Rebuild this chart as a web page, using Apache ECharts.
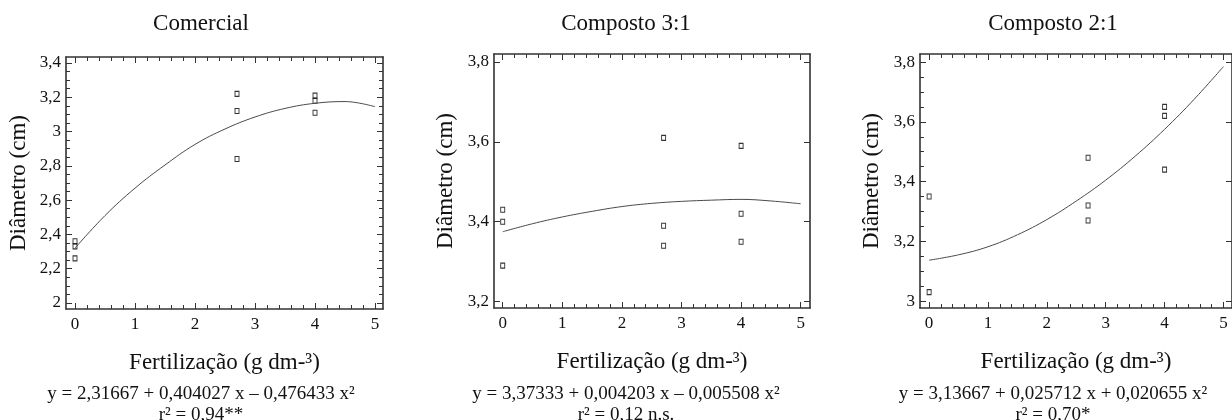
<!DOCTYPE html>
<html><head><meta charset="utf-8">
<script src="https://cdn.jsdelivr.net/npm/echarts@6/dist/echarts.min.js"></script>
<style>html,body{margin:0;padding:0;background:#fff}#c{width:1232px;height:420px}</style>
</head><body><div id="c"></div>
<script>
// ---- data ----
const panelTitles = ['Comercial', 'Composto 3:1', 'Composto 2:1'];
const equations = [
  'y = 2,31667 + 0,404027 x – 0,476433 x²',
  'y = 3,37333 + 0,004203 x – 0,005508 x²',
  'y = 3,13667 + 0,025712 x + 0,020655 x²'
];
const r2Labels = ['r² = 0,94**', 'r² = 0,12 n.s.', 'r² = 0,70*'];
const xAxisName = 'Fertilização (g dm-³)';
const yAxisName = 'Diâmetro (cm)';

const xTickValues = [0, 1, 2, 3, 4, 5];
const xTickLabels = ['0', '1', '2', '3', '4', '5'];
const yTickValues1 = [2, 2.2, 2.4, 2.6, 2.8, 3, 3.2, 3.4];
const yTickLabels1 = ['2', '2,2', '2,4', '2,6', '2,8', '3', '3,2', '3,4'];
const yTickValues2 = [3.2, 3.4, 3.6, 3.8];
const yTickLabels2 = ['3,2', '3,4', '3,6', '3,8'];
const yTickValues3 = [3, 3.2, 3.4, 3.6, 3.8];
const yTickLabels3 = ['3', '3,2', '3,4', '3,6', '3,8'];

const obsX1 = [0, 0, 0, 2.7, 2.7, 2.7, 4, 4, 4];
const obsY1 = [2.36, 2.33, 2.26, 3.22, 3.12, 2.84, 3.21, 3.18, 3.11];
const obsX2 = [0, 0, 0, 2.7, 2.7, 2.7, 4, 4, 4];
const obsY2 = [3.43, 3.40, 3.29, 3.61, 3.39, 3.34, 3.59, 3.42, 3.35];
const obsX3 = [0, 0, 2.7, 2.7, 2.7, 4, 4, 4];
const obsY3 = [3.35, 3.03, 3.48, 3.32, 3.27, 3.65, 3.62, 3.44];

const fitX1 = [0, 0.5, 1, 1.5, 2, 2.5, 3, 3.5, 4, 4.5, 5];
const fitY1 = [2.32, 2.51, 2.67, 2.805, 2.925, 3.015, 3.085, 3.135, 3.165, 3.175, 3.145];
const fitX2 = [0, 0.5, 1, 1.5, 2, 2.5, 3, 3.5, 4, 4.5, 5];
const fitY2 = [3.375, 3.395, 3.412, 3.426, 3.438, 3.446, 3.451, 3.454, 3.456, 3.452, 3.445];
const fitX3 = [0, 0.5, 1, 1.5, 2, 2.5, 3, 3.5, 4, 4.5, 5];
const fitY3 = [3.137, 3.155, 3.182, 3.222, 3.273, 3.335, 3.405, 3.485, 3.575, 3.675, 3.785];

// ---- layout / styling ----
const FONT = "'Liberation Serif', 'Times New Roman', serif";
const INK = '#111';
const FRAME = '#333';

const panels = [
  { grid: {left: 66, top: 57, width: 317, height: 252}, x: [-0.15, 5.133], y: [1.965, 3.435],
    yv: yTickValues1, yl: yTickLabels1, yMinorL: 4, yMinorR: 4, titleX: 201, yNameGap: 36,
    ox: obsX1, oy: obsY1, fx: fitX1, fy: fitY1 },
  { grid: {left: 494, top: 54, width: 316, height: 254}, x: [-0.146, 5.156], y: [3.184, 3.82],
    yv: yTickValues2, yl: yTickLabels2, yMinorL: 0, yMinorR: 0, titleX: 626, yNameGap: 37,
    ox: obsX2, oy: obsY2, fx: fitX2, fy: fitY2 },
  { grid: {left: 920, top: 54, width: 318, height: 254}, x: [-0.155, 5.145], y: [2.977, 3.827],
    yv: yTickValues3, yl: yTickLabels3, yMinorL: 4, yMinorR: 0, titleX: 1053, yNameGap: 37,
    ox: obsX3, oy: obsY3, fx: fitX3, fy: fitY3 }
];

function subdivide(vals, n) {
  const out = [];
  if (n < 2) return out;
  for (let i = 0; i < vals.length - 1; i++) {
    const a = vals[i], b = vals[i + 1];
    for (let k = 1; k < n; k++) out.push(+(a + (b - a) * k / n).toFixed(6));
  }
  return out;
}

const grids = [], xAxes = [], yAxes = [], series = [], titles = [];

function tickAxis(base, values, len, opts) {
  return Object.assign({
    type: 'value', splitLine: {show: false},
    axisLine: {show: false, onZero: false},
    axisLabel: {show: false},
    axisTick: {show: values.length > 0, inside: true, length: len, customValues: values,
      lineStyle: {color: FRAME, width: 1}}
  }, base, opts || {});
}

panels.forEach((p, gi) => {
  grids.push(Object.assign({show: false, containLabel: false}, p.grid));
  const xb = {gridIndex: gi, min: p.x[0], max: p.x[1]};
  const yb = {gridIndex: gi, min: p.y[0], max: p.y[1]};
  const xMain = xAxes.length;
  xAxes.push(tickAxis(Object.assign({position: 'bottom'}, xb), xTickValues, 6, {
    axisLine: {show: true, onZero: false, lineStyle: {color: FRAME, width: 1.6}},
    axisLabel: {show: true, customValues: xTickValues, margin: 7, color: INK,
      fontFamily: FONT, fontSize: 17,
      formatter: v => xTickLabels[xTickValues.findIndex(t => Math.abs(t - v) < 1e-6)] ?? ''},
    name: xAxisName, nameLocation: 'middle', nameGap: 42,
    nameTextStyle: {fontFamily: FONT, fontSize: 23, color: INK}
  }));
  xAxes.push(tickAxis(Object.assign({position: 'bottom'}, xb), subdivide(xTickValues, 5), 4));
  xAxes.push(tickAxis(Object.assign({position: 'top'}, xb), xTickValues, 6, {
    axisLine: {show: true, onZero: false, lineStyle: {color: FRAME, width: 1.6}}
  }));
  xAxes.push(tickAxis(Object.assign({position: 'top'}, xb), subdivide(xTickValues, 5), 4));

  const yMain = yAxes.length;
  yAxes.push(tickAxis(Object.assign({position: 'left'}, yb), p.yv, 6, {
    axisLine: {show: true, onZero: false, lineStyle: {color: FRAME, width: 1.6}},
    axisLabel: {show: true, customValues: p.yv, margin: 5, color: INK,
      fontFamily: FONT, fontSize: 17,
      formatter: v => p.yl[p.yv.findIndex(t => Math.abs(t - v) < 1e-6)] ?? ''},
    name: yAxisName, nameLocation: 'middle', nameGap: p.yNameGap,
    nameTextStyle: {fontFamily: FONT, fontSize: 23, color: INK}
  }));
  yAxes.push(tickAxis(Object.assign({position: 'left'}, yb), subdivide(p.yv, p.yMinorL), 4));
  yAxes.push(tickAxis(Object.assign({position: 'right'}, yb), p.yv, 6, {
    axisLine: {show: true, onZero: false, lineStyle: {color: FRAME, width: 1.6}}
  }));
  yAxes.push(tickAxis(Object.assign({position: 'right'}, yb), subdivide(p.yv, p.yMinorR), 4));

  series.push({
    type: 'line', xAxisIndex: xMain, yAxisIndex: yMain, smooth: 0.4, symbol: 'none',
    lineStyle: {color: '#4a4a4a', width: 1}, silent: true, animation: false,
    data: p.fx.map((x, i) => [x, p.fy[i]])
  });
  series.push({
    type: 'scatter', xAxisIndex: xMain, yAxisIndex: yMain, symbol: 'rect', symbolSize: [4, 5],
    itemStyle: {color: 'rgba(255,255,255,0)', borderColor: '#000', borderWidth: 1},
    animation: false, data: p.ox.map((x, i) => [x, p.oy[i]])
  });

  titles.push({text: panelTitles[gi], left: p.titleX, top: 12, textAlign: 'center', padding: 0,
    textStyle: {fontFamily: FONT, fontSize: 23, fontWeight: 'normal', color: INK}});
  titles.push({text: equations[gi], left: p.titleX, top: 385, textAlign: 'center', padding: 0,
    textStyle: {fontFamily: FONT, fontSize: 19, fontWeight: 'normal', color: INK}});
  titles.push({text: r2Labels[gi], left: p.titleX, top: 406, textAlign: 'center', padding: 0,
    textStyle: {fontFamily: FONT, fontSize: 19, fontWeight: 'normal', color: INK}});
});

const chart = echarts.init(document.getElementById('c'), null, {renderer: 'canvas'});
chart.setOption({
  backgroundColor: '#fff',
  animation: false,
  title: titles,
  grid: grids,
  xAxis: xAxes,
  yAxis: yAxes,
  series: series
});
</script>
</body></html>
